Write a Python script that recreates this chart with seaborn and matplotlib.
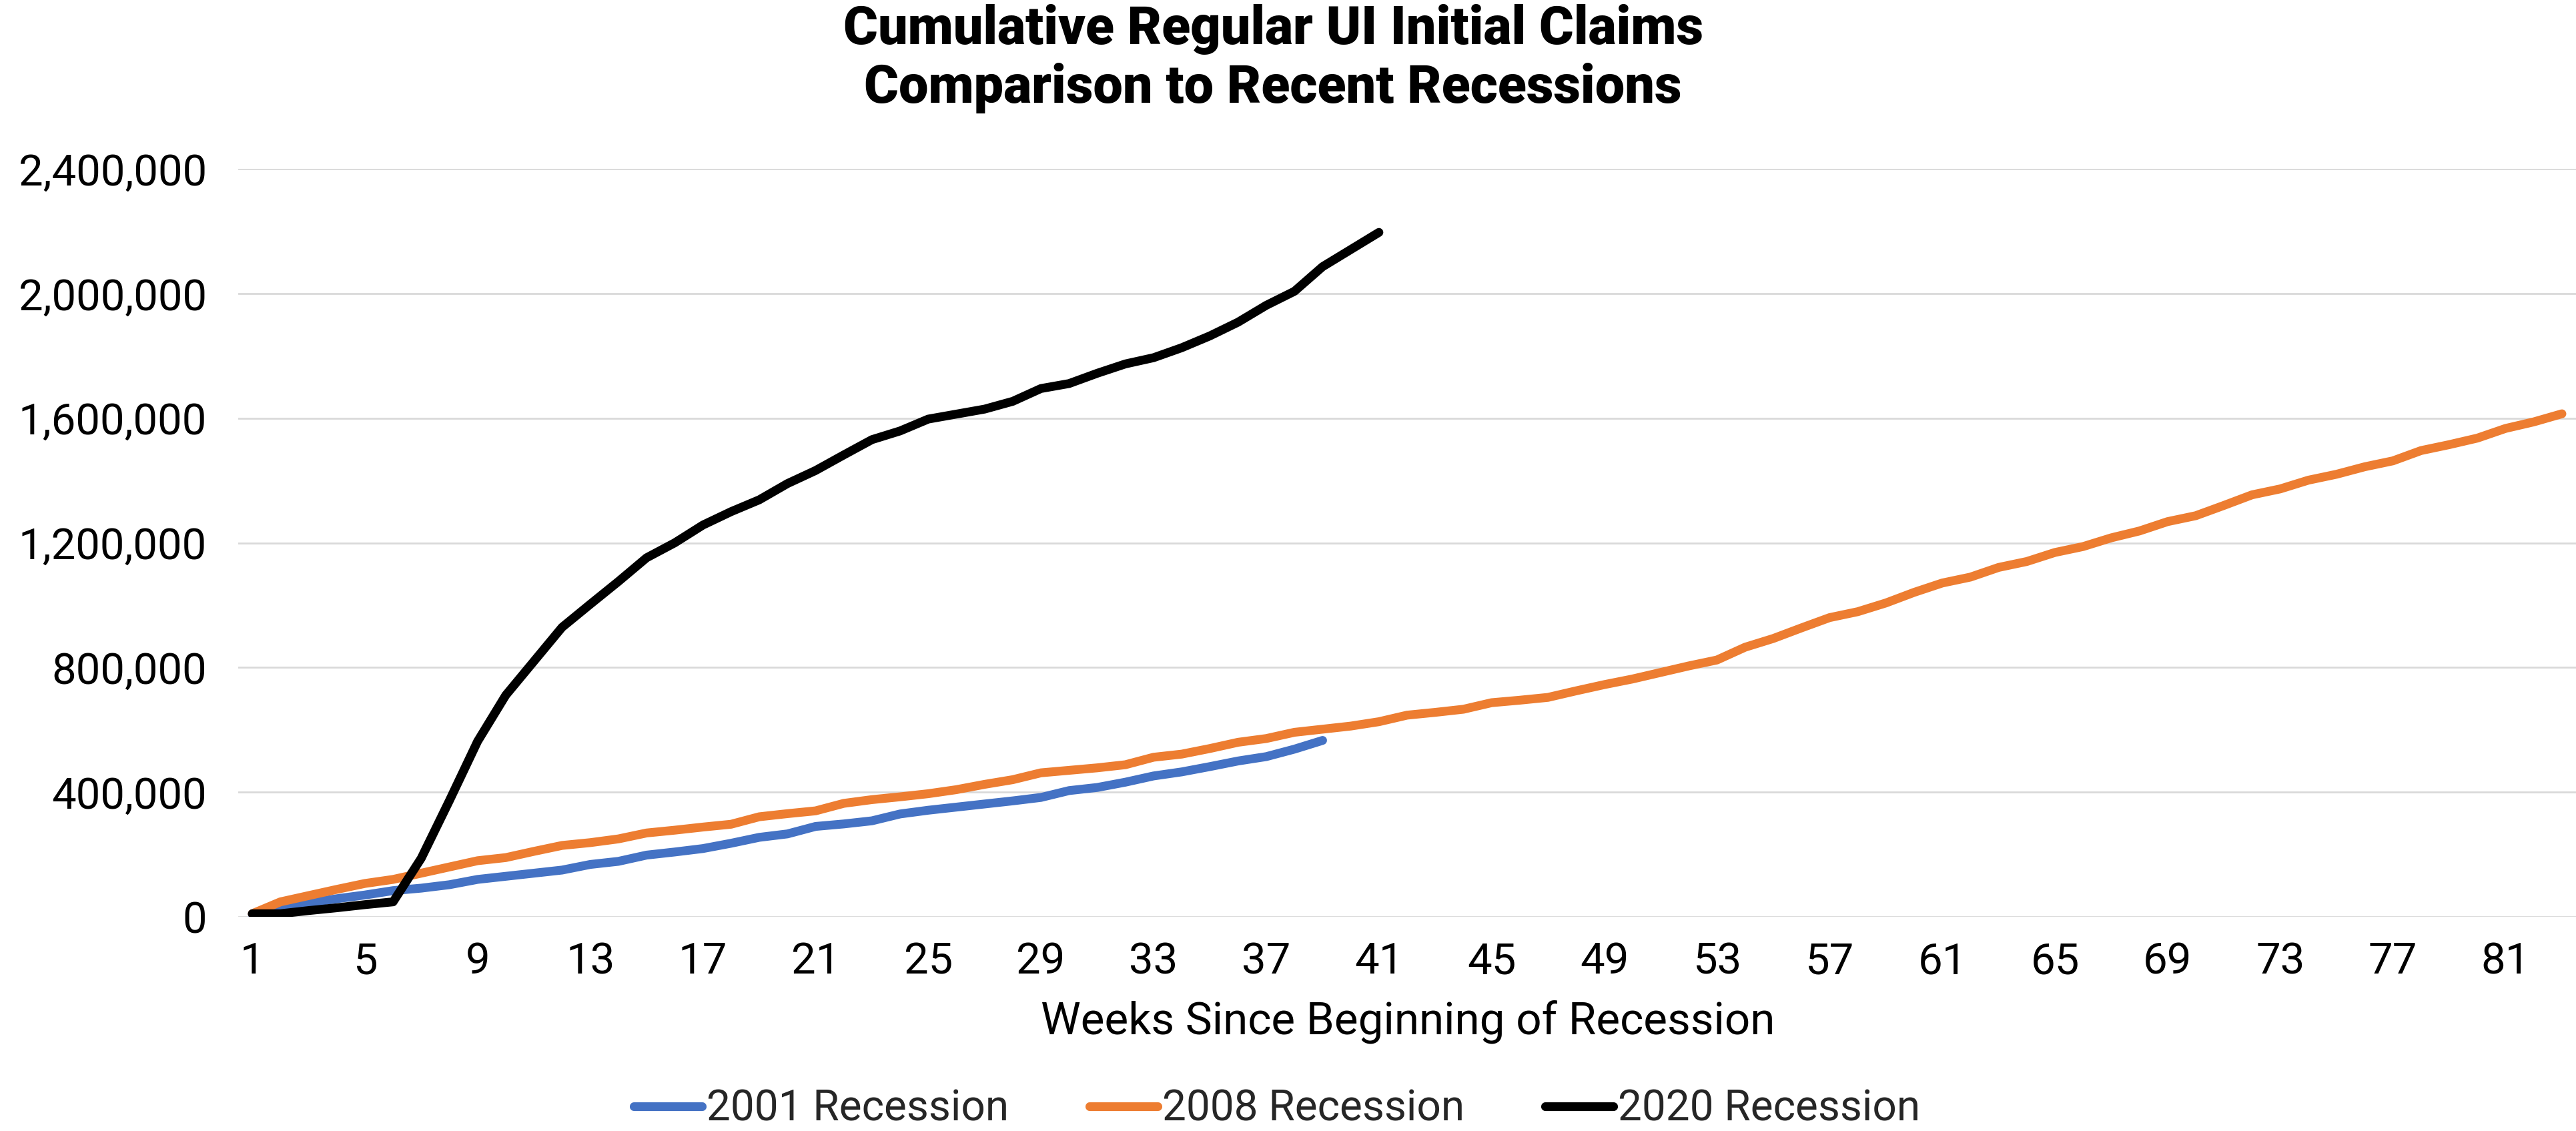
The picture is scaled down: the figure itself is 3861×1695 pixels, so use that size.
import numpy as np
import pandas as pd
import matplotlib
matplotlib.use("Agg")
import matplotlib.pyplot as plt
import seaborn as sns

# ---- data (cumulative initial claims) ----
claims_2001 = [8000, 28000, 45000, 58000, 70000, 84000, 92000, 103000, 120000, 130000,
               140000, 150000, 168000, 178000, 198000, 208000, 219000, 236000, 255000, 266000,
               290000, 298000, 308000, 330000, 342000, 352000, 362000, 372000, 383000, 405000,
               415000, 432000, 452000, 465000, 482000, 500000, 514000, 538000, 566000]

claims_2008 = [10000, 48000, 68000, 88000, 107000, 120000, 140000, 160000, 180000, 190000,
               210000, 229000, 238000, 250000, 269000, 278000, 288000, 297000, 321000, 331000,
               340000, 364000, 376000, 385000, 395000, 408000, 425000, 440000, 462000, 470000,
               478000, 488000, 512000, 522000, 540000, 560000, 572000, 592000, 602000, 612000,
               626000, 647000, 656000, 666000, 687000, 695000, 704000, 725000, 745000, 763000,
               784000, 805000, 824000, 865000, 893000, 927000, 960000, 979000, 1007000, 1041000,
               1071000, 1090000, 1121000, 1140000, 1169000, 1188000, 1216000, 1238000, 1268000, 1287000,
               1320000, 1354000, 1373000, 1401000, 1420000, 1444000, 1463000, 1496000, 1515000, 1536000,
               1567000, 1588000, 1614000]

claims_2020 = [10000, 10000, 20000, 29000, 39000, 48000, 188000, 373000, 563000, 711000,
               820000, 929000, 1003000, 1076000, 1152000, 1200000, 1257000, 1300000, 1338000, 1390000,
               1432000, 1482000, 1531000, 1559000, 1597000, 1613000, 1629000, 1654000, 1695000, 1711000,
               1744000, 1774000, 1794000, 1826000, 1864000, 1908000, 1962000, 2007000, 2086000, 2141000,
               2196000]

series_names = ["2001 Recession", "2008 Recession", "2020 Recession"]
series_colors = ["#4472C4", "#ED7D31", "#000000"]
y_ticks = [0, 400000, 800000, 1200000, 1600000, 2000000, 2400000]
x_ticks = list(range(1, 82, 4))

frames = []
for name, vals in zip(series_names, [claims_2001, claims_2008, claims_2020]):
    frames.append(pd.DataFrame({"week": np.arange(1, len(vals) + 1),
                                "claims": vals, "series": name}))
df = pd.concat(frames, ignore_index=True)

# ---- figure ----
sns.set_theme(style="white")
plt.rcParams["font.family"] = ["Roboto", "DejaVu Sans"]

W, H, DPI = 3861, 1695, 100
LW = 9.5
fig = plt.figure(figsize=(W / DPI, H / DPI), dpi=DPI)
ax = fig.add_axes([357 / W, 1 - 1374 / H, (W - 357) / W, (1374 - 253) / H])

for yt in y_ticks:
    ax.axhline(yt, color="#D9D9D9", lw=2.0, zorder=0)

sns.lineplot(data=df, x="week", y="claims", hue="series", hue_order=series_names,
             palette=dict(zip(series_names, series_colors)), linewidth=LW,
             solid_capstyle="round", solid_joinstyle="round", ax=ax, legend=True)

ax.set_xlim(0.5, len(claims_2008) + 0.5)
ax.set_ylim(0, 2400000)
ax.set_yticks(y_ticks)
ax.set_yticklabels([f"{v:,}" for v in y_ticks])
ax.set_xticks(x_ticks)
ax.set_xticklabels([str(v) for v in x_ticks])
ax.tick_params(axis="both", length=0, labelsize=47, colors="black")
ax.tick_params(axis="y", pad=34)
ax.tick_params(axis="x", pad=26)
for s in ax.spines.values():
    s.set_visible(False)
ax.grid(False)
ax.set_ylabel("")
ax.set_xlabel("Weeks Since Beginning of Recession", fontsize=48.5, color="black")
ax.xaxis.set_label_coords(2110 / W, 1 - 1532 / H, transform=fig.transFigure)
ax.xaxis.label.set_va("center")

handles, labels = ax.get_legend_handles_labels()
ax.legend_.remove()
fig.legend(handles, labels, loc="center", bbox_to_anchor=(1914 / W, 1 - 1662 / H),
           ncol=3, frameon=False, fontsize=46, handlelength=1.6, handletextpad=0.1,
           columnspacing=1.9)
for lh in fig.legends[0].get_lines():
    lh.set_linewidth(LW)
    lh.set_solid_capstyle("round")

fig.text(1908 / W, 1 - 6 / H, "Cumulative Regular UI Initial Claims\nComparison to Recent Recessions",
         ha="center", va="top", fontsize=57, fontweight=900, linespacing=1.2, color="black")

fig.savefig("out.png", dpi=DPI)
